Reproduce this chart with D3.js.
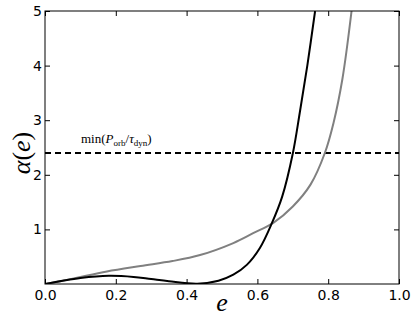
<!DOCTYPE html>
<html>
<head>
<meta charset="utf-8">
<script src="https://cdn.jsdelivr.net/npm/d3@7"></script>
<style>
  body { margin: 0; background: #fff; }
  svg { display: block; }
  .tick text { font-family: "DejaVu Sans", sans-serif; font-size: 14px; fill: #000; }
</style>
</head>
<body>
<svg id="graph"></svg>
<script>
// black curve (e, alpha)
var blackE = [0, 0.05, 0.10, 0.18, 0.25, 0.30, 0.35, 0.43, 0.49, 0.532, 0.57, 0.607, 0.64, 0.67, 0.70, 0.72, 0.741, 0.763];
var blackA = [0, 0.06, 0.11, 0.15, 0.13, 0.09, 0.05, 0.005, 0.06, 0.17, 0.35, 0.66, 1.10, 1.60, 2.39, 3.15, 4.0, 5.0];
// gray curve
var grayE = [0, 0.05, 0.10, 0.175, 0.27, 0.36, 0.438, 0.532, 0.588, 0.645, 0.70, 0.75, 0.79, 0.815, 0.84, 0.866];
var grayA = [0, 0.06, 0.13, 0.23, 0.33, 0.42, 0.53, 0.75, 0.93, 1.12, 1.42, 1.82, 2.39, 2.95, 3.75, 5.0];
var threshold = 2.4;
var xTicks = [0, 0.2, 0.4, 0.6, 0.8, 1.0];
var yTicks = [1, 2, 3, 4, 5];

var screen = {width: 415, height: 321};
var margin = {left: 45, top: 11, right: 16, bottom: 37};

var svg = d3.select("#graph")
    .attr("width", screen.width)
    .attr("height", screen.height);

var xScale = d3.scaleLinear()
    .domain([0, 1])
    .range([margin.left, screen.width - margin.right]);
var yScale = d3.scaleLinear()
    .domain([0, 5])
    .range([screen.height - margin.bottom, margin.top]);

var toPoints = function(es, as) {
    return es.map(function(e, i) { return [e, as[i]]; });
};

svg.append("defs").append("clipPath").attr("id", "clip")
    .append("rect")
    .attr("x", xScale(0)).attr("y", yScale(5))
    .attr("width", xScale(1) - xScale(0))
    .attr("height", yScale(0) - yScale(5));

var line = d3.line()
    .x(function(d) { return xScale(d[0]); })
    .y(function(d) { return yScale(d[1]); })
    .curve(d3.curveCatmullRom.alpha(0.5));

var plot = svg.append("g").attr("clip-path", "url(#clip)");

plot.append("line")
    .attr("x1", xScale(0)).attr("x2", xScale(1))
    .attr("y1", yScale(threshold)).attr("y2", yScale(threshold))
    .attr("stroke", "#000")
    .attr("stroke-width", 2)
    .attr("stroke-dasharray", "6,4");

plot.append("path")
    .datum(toPoints(grayE, grayA))
    .attr("d", line)
    .attr("fill", "none")
    .attr("stroke", "#808080")
    .attr("stroke-width", 2);

plot.append("path")
    .datum(toPoints(blackE, blackA))
    .attr("d", line)
    .attr("fill", "none")
    .attr("stroke", "#000")
    .attr("stroke-width", 2);

// axes with inward ticks on all sides
var fmt = d3.format(".1f");
svg.append("g")
    .attr("transform", "translate(0," + yScale(0) + ")")
    .call(d3.axisBottom(xScale).tickValues(xTicks).tickFormat(fmt).tickSize(-5).tickPadding(6))
    .call(function(g) { g.select(".domain").remove(); });
svg.append("g")
    .attr("transform", "translate(0," + yScale(5) + ")")
    .call(d3.axisTop(xScale).tickValues(xTicks).tickFormat("").tickSize(-5))
    .call(function(g) { g.select(".domain").remove(); });
svg.append("g")
    .attr("transform", "translate(" + xScale(0) + ",0)")
    .call(d3.axisLeft(yScale).tickValues(yTicks).tickFormat(d3.format("d")).tickSize(-5).tickPadding(3))
    .call(function(g) { g.select(".domain").remove(); });
svg.append("g")
    .attr("transform", "translate(" + xScale(1) + ",0)")
    .call(d3.axisRight(yScale).tickValues(yTicks).tickFormat("").tickSize(-5))
    .call(function(g) { g.select(".domain").remove(); });

svg.append("rect")
    .attr("x", xScale(0)).attr("y", yScale(5))
    .attr("width", xScale(1) - xScale(0))
    .attr("height", yScale(0) - yScale(5))
    .attr("fill", "none")
    .attr("stroke", "#000")
    .attr("stroke-width", 1);

// labels
var serif = "'Liberation Serif', 'DejaVu Serif', serif";
svg.append("text")
    .attr("x", (xScale(0) + xScale(1)) / 2)
    .attr("y", 311)
    .attr("text-anchor", "middle")
    .style("font-family", serif)
    .style("font-style", "italic")
    .style("font-size", "26px")
    .text("e");

svg.append("text")
    .attr("transform", "translate(30,153) rotate(-90)")
    .attr("text-anchor", "middle")
    .style("font-family", serif)
    .style("font-size", "26px")
    .html('<tspan font-style="italic">α</tspan>(<tspan font-style="italic">e</tspan>)');

var lab = svg.append("text")
    .attr("x", 81)
    .attr("y", 143)
    .style("font-family", serif)
    .style("font-size", "13px");
lab.append("tspan").text("min(");
lab.append("tspan").attr("font-style", "italic").text("P");
lab.append("tspan").attr("font-size", "9px").attr("dy", 3).text("orb");
lab.append("tspan").attr("dy", -3).text("/");
lab.append("tspan").attr("font-style", "italic").text("τ");
lab.append("tspan").attr("font-size", "9px").attr("dy", 3).text("dyn");
lab.append("tspan").attr("dy", -3).text(")");
</script>
</body>
</html>
